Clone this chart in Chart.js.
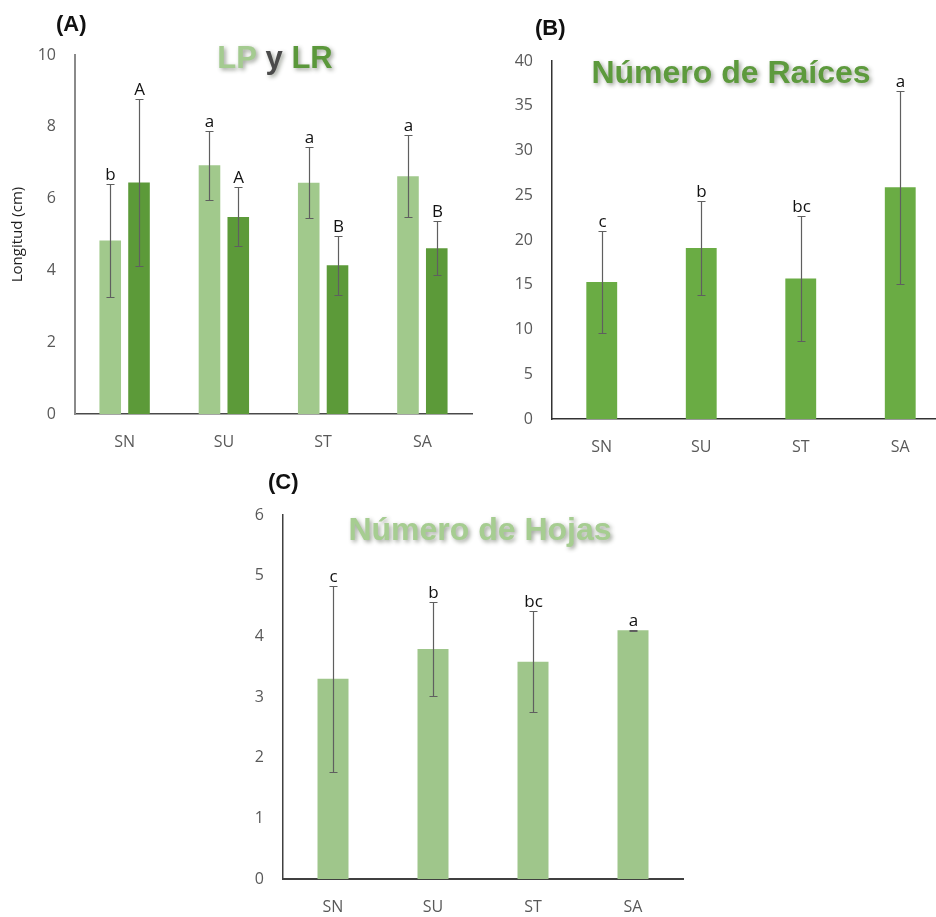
<!DOCTYPE html>
<html lang="es">
<head>
<meta charset="utf-8">
<title>LP y LR, Número de Raíces, Número de Hojas</title>
<script src="https://cdn.jsdelivr.net/npm/chart.js@4/dist/chart.umd.min.js"></script>
<style>
  html, body { margin: 0; padding: 0; background: #ffffff; }
  #page { position: relative; width: 936px; height: 917px; overflow: hidden; background: #ffffff; }
  #page canvas { position: absolute; }
  #chartA { left: 0px; top: 0px; }
  #chartB { left: 470px; top: 0px; }
  #chartC { left: 230px; top: 460px; }
</style>
</head>
<body>
<div id="page">
  <canvas id="chartA" width="480" height="460"></canvas>
  <canvas id="chartB" width="480" height="460"></canvas>
  <canvas id="chartC" width="460" height="457"></canvas>
</div>
<script>
// Treatments
const categories = ['SN', 'SU', 'ST', 'SA'];

// (A) Longitud (cm): LP and LR, mean ± error
const lpMeans   = [4.83, 6.93, 6.44, 6.62];
const lpErrors  = [1.57, 0.96, 0.99, 1.14];
const lpLetters = ['b', 'a', 'a', 'a'];
const lrMeans   = [6.45, 5.49, 4.14, 4.62];
const lrErrors  = [2.32, 0.82, 0.82, 0.76];
const lrLetters = ['A', 'A', 'B', 'B'];

// (B) Número de Raíces
const raicesMeans   = [15.3, 19.1, 15.7, 25.9];
const raicesErrors  = [5.7, 5.3, 7.0, 10.8];
const raicesLetters = ['c', 'b', 'bc', 'a'];

// (C) Número de Hojas
const hojasMeans   = [3.30, 3.79, 3.58, 4.10];
const hojasErrors  = [1.53, 0.77, 0.83, 0.01];
const hojasLetters = ['c', 'b', 'bc', 'a'];

// Y-axis ranges and tick steps
const yRangeA = [0, 10, 2];
const yRangeB = [0, 40, 5];
const yRangeC = [0, 6, 1];

const TICK_FONT = '"Open Sans", "Liberation Sans", sans-serif';
const TITLE_FONT = '"Liberation Sans", Arial, sans-serif';

// Draws error bars + significance letters for each bar, then the panel tag and title
const annotatePlugin = {
  id: 'annotate',
  afterDatasetsDraw(chart, args, opts) {
    const ctx = chart.ctx;
    const yScale = chart.scales.y;
    ctx.save();
    chart.data.datasets.forEach((ds, i) => {
      const meta = chart.getDatasetMeta(i);
      meta.data.forEach((bar, j) => {
        const m = ds.data[j];
        const e = ds.errors[j];
        const yTop = Math.round(yScale.getPixelForValue(m + e)) + 0.5;
        const yBot = Math.round(yScale.getPixelForValue(m - e)) + 0.5;
        const x = Math.round(bar.x) + 0.5;
        ctx.strokeStyle = '#5f5f5f';
        ctx.lineWidth = 1.2;
        ctx.beginPath();
        ctx.moveTo(x, yTop); ctx.lineTo(x, yBot);
        ctx.moveTo(x - 4, yTop); ctx.lineTo(x + 4, yTop);
        ctx.moveTo(x - 4, yBot); ctx.lineTo(x + 4, yBot);
        ctx.stroke();
        ctx.fillStyle = '#111111';
        ctx.font = '17px ' + TICK_FONT;
        ctx.textAlign = 'center';
        ctx.textBaseline = 'alphabetic';
        ctx.fillText(ds.letters[j], x, yTop - 5);
      });
    });
    ctx.restore();
  },
  afterDraw(chart, args, opts) {
    const ctx = chart.ctx;
    ctx.save();
    // panel tag
    ctx.fillStyle = '#111111';
    ctx.font = 'bold 22px ' + TITLE_FONT;
    ctx.textAlign = 'left';
    ctx.textBaseline = 'alphabetic';
    ctx.fillText(opts.tag, opts.tagX, opts.tagY);
    // title made of coloured parts
    ctx.font = 'bold ' + opts.titleSize + 'px ' + TITLE_FONT;
    const widths = opts.parts.map(p => ctx.measureText(p.text).width);
    const total = widths.reduce((a, b) => a + b, 0);
    let x = opts.titleX - total / 2;
    ctx.shadowColor = 'rgba(40, 50, 30, 0.45)';
    ctx.shadowBlur = 4;
    ctx.shadowOffsetX = 2;
    ctx.shadowOffsetY = 2;
    opts.parts.forEach((p, k) => {
      ctx.fillStyle = p.color;
      ctx.fillText(p.text, x, opts.titleY);
      x += widths[k];
    });
    ctx.restore();
  }
};

function buildChart(canvasId, datasets, yRange, cfg) {
  return new Chart(document.getElementById(canvasId), {
    type: 'bar',
    data: { labels: categories, datasets: datasets },
    plugins: [annotatePlugin],
    options: {
      responsive: false,
      animation: false,
      events: [],
      layout: { padding: cfg.padding },
      plugins: {
        legend: { display: false },
        tooltip: { enabled: false },
        annotate: cfg.annotate
      },
      scales: {
        x: {
          grid: { display: false, drawTicks: false },
          border: { display: true, color: cfg.xAxisColor, width: cfg.xAxisWidth },
          ticks: { color: '#595959', font: { family: TICK_FONT, size: 16 }, padding: 19 },
          afterFit(scale) { scale.height = cfg.xHeight; }
        },
        y: {
          min: yRange[0],
          max: yRange[1],
          grid: { display: false, drawTicks: false },
          border: { display: true, color: cfg.yAxisColor, width: cfg.yAxisWidth },
          ticks: { stepSize: yRange[2], color: '#595959', font: { family: TICK_FONT, size: 16 }, padding: 19 },
          title: cfg.yTitle || { display: false },
          afterFit(scale) { scale.width = cfg.yWidth; }
        }
      }
    }
  });
}

// (A) LP y LR
buildChart('chartA', [
  {
    label: 'LP', data: lpMeans, errors: lpErrors, letters: lpLetters,
    backgroundColor: '#a1c98c', barPercentage: 0.75, categoryPercentage: 0.58
  },
  {
    label: 'LR', data: lrMeans, errors: lrErrors, letters: lrLetters,
    backgroundColor: '#5c9a39', barPercentage: 0.75, categoryPercentage: 0.58
  }
], yRangeA, {
  padding: { top: 55, left: 0, right: 8, bottom: 0 },
  xHeight: 46, yWidth: 75,
  xAxisColor: '#4a4a4a', xAxisWidth: 1.5,
  yAxisColor: '#8a8a8a', yAxisWidth: 2,
  yTitle: {
    display: true, text: 'Longitud (cm)', color: '#1e1e1e',
    font: { family: TICK_FONT, size: 15 }, padding: { top: 9, bottom: 0 }
  },
  annotate: {
    tag: '(A)', tagX: 56, tagY: 31,
    titleX: 275, titleY: 68, titleSize: 31,
    parts: [
      { text: 'LP', color: '#a4cb90' },
      { text: ' y ', color: '#4b4b4b' },
      { text: 'LR', color: '#5b983b' }
    ]
  }
});

// (B) Número de Raíces
buildChart('chartB', [
  {
    label: 'Número de Raíces', data: raicesMeans, errors: raicesErrors, letters: raicesLetters,
    backgroundColor: '#6aac44', barPercentage: 0.31, categoryPercentage: 1
  }
], yRangeB, {
  padding: { top: 61, left: 0, right: 0, bottom: 0 },
  xHeight: 41, yWidth: 82,
  xAxisColor: '#333333', xAxisWidth: 1.5,
  yAxisColor: '#333333', yAxisWidth: 1.5,
  annotate: {
    tag: '(B)', tagX: 65, tagY: 35,
    titleX: 261, titleY: 83, titleSize: 32,
    parts: [ { text: 'Número de Raíces', color: '#5d9a3d' } ]
  }
});

// (C) Número de Hojas
buildChart('chartC', [
  {
    label: 'Número de Hojas', data: hojasMeans, errors: hojasErrors, letters: hojasLetters,
    backgroundColor: '#9fc68b', barPercentage: 0.31, categoryPercentage: 1
  }
], yRangeC, {
  padding: { top: 55, left: 0, right: 7, bottom: 0 },
  xHeight: 38, yWidth: 53,
  xAxisColor: '#404040', xAxisWidth: 2,
  yAxisColor: '#404040', yAxisWidth: 1.5,
  annotate: {
    tag: '(C)', tagX: 38, tagY: 29,
    titleX: 250, titleY: 80, titleSize: 32,
    parts: [ { text: 'Número de Hojas', color: '#a6cd91' } ]
  }
});
</script>
</body>
</html>
